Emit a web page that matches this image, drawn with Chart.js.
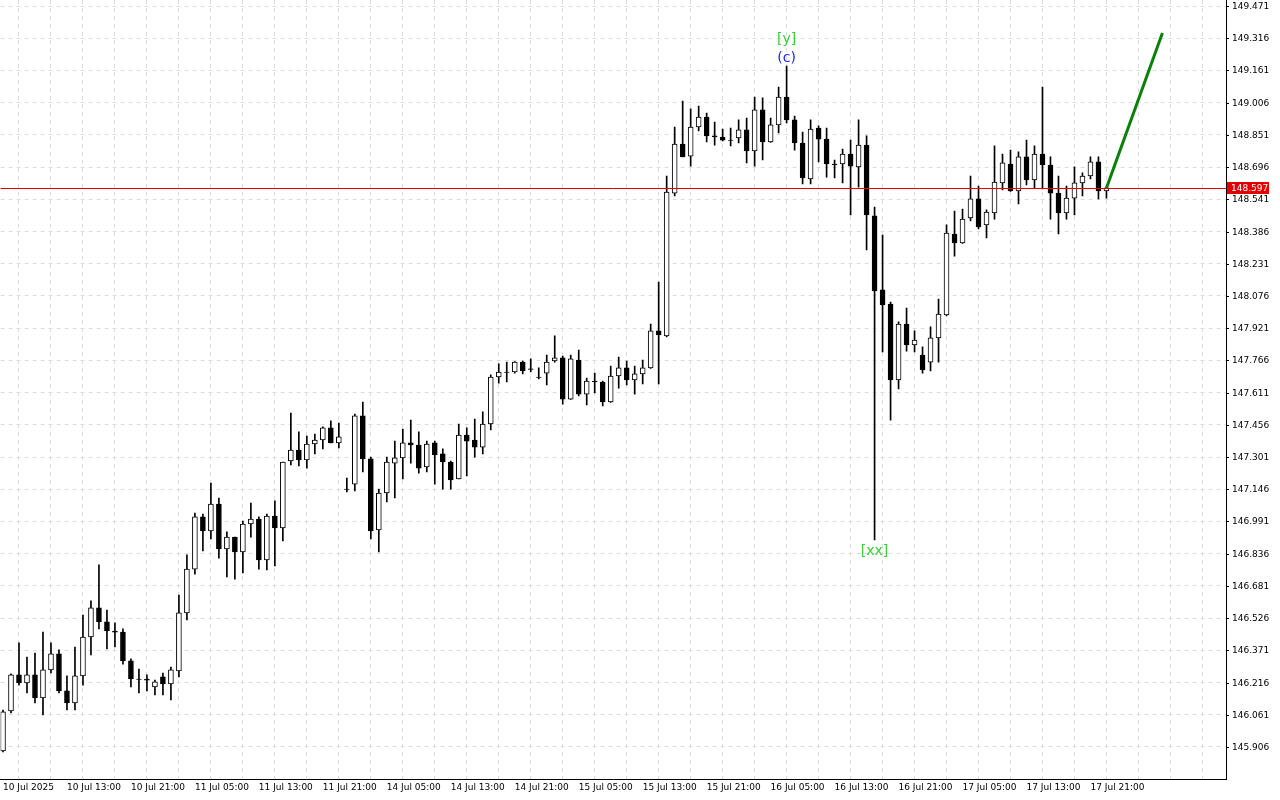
<!DOCTYPE html>
<html>
<head>
<meta charset="utf-8">
<script src="https://cdn.jsdelivr.net/npm/chart.js@4.4.1/dist/chart.umd.min.js"></script>
<style>
  html, body { margin: 0; padding: 0; background: #fff; }
  #wrap { width: 1280px; height: 800px; position: relative; }
</style>
</head>
<body>
<div id="wrap"><canvas id="c"></canvas></div>
<script>
/* USDJPY-style H1 candles, 10 Jul 2025 – 17 Jul 2025 */

const OPEN = [145.887,146.079,146.253,146.214,146.253,146.142,146.277,146.354,146.176,146.118,
  146.248,146.435,146.575,146.508,146.464,146.459,146.320,146.233,146.233,146.195,
  146.243,146.209,146.272,146.551,146.762,147.013,146.945,147.075,146.859,146.916,
  146.844,146.979,147.003,146.806,147.017,146.960,147.282,147.335,147.287,147.364,
  147.383,147.441,147.369,147.147,147.171,147.499,147.292,146.950,147.128,147.272,
  147.297,147.369,147.359,147.253,147.369,147.316,147.277,147.196,147.407,147.383,
  147.349,147.460,147.686,147.710,147.710,147.758,147.725,147.686,147.705,147.763,
  147.778,147.580,147.768,147.604,147.667,147.662,147.566,147.691,147.730,147.672,
  147.701,147.730,147.908,147.884,148.571,148.807,148.749,148.889,148.937,148.846,
  148.841,148.826,148.836,148.875,148.774,148.971,148.817,148.899,149.033,148.923,
  148.812,148.639,148.884,148.831,148.711,148.711,148.759,148.697,148.802,148.461,
  148.105,148.037,147.672,147.941,147.840,147.792,147.758,147.874,147.985,148.374,
  148.331,148.451,148.543,148.418,148.475,148.620,148.711,148.581,148.745,148.634,
  148.759,148.706,148.571,148.475,148.547,148.620,148.653,148.721,148.581];
const HIGH = [146.084,146.258,146.407,146.339,146.358,146.459,146.407,146.373,146.248,146.387,
  146.541,146.609,146.782,146.565,146.503,146.474,146.330,146.281,146.253,146.228,
  146.262,146.291,146.637,146.830,147.032,147.027,147.176,147.104,146.941,146.916,
  146.993,147.080,147.013,147.027,147.090,147.277,147.513,147.422,147.402,147.412,
  147.446,147.475,147.465,147.200,147.508,147.566,147.301,147.147,147.301,147.378,
  147.436,147.479,147.422,147.378,147.378,147.340,147.282,147.460,147.441,147.484,
  147.518,147.696,147.749,147.758,147.760,147.763,147.773,147.730,147.792,147.884,
  147.787,147.792,147.816,147.681,147.705,147.667,147.739,147.782,147.763,147.739,
  147.768,147.941,148.143,148.653,148.889,149.014,148.976,148.990,148.956,148.913,
  148.879,148.884,148.923,148.932,149.033,149.029,148.932,149.081,149.182,148.942,
  148.865,148.923,148.894,148.884,148.730,148.783,148.826,148.923,148.846,148.504,
  148.369,148.047,147.951,148.018,147.908,147.831,147.927,148.061,148.418,148.485,
  148.494,148.653,148.605,148.490,148.798,148.759,148.778,148.769,148.826,148.798,
  149.081,148.745,148.653,148.605,148.697,148.668,148.745,148.745,148.600];
const LOW = [145.882,146.070,146.204,146.166,146.118,146.060,146.262,146.166,146.084,146.084,
  146.204,146.349,146.474,146.378,146.387,146.305,146.195,146.166,146.176,146.156,
  146.156,146.133,146.243,146.517,146.738,146.849,146.907,146.815,146.724,146.714,
  146.743,146.916,146.762,146.758,146.777,146.897,147.263,147.258,147.248,147.316,
  147.340,147.369,147.345,147.133,147.138,147.229,146.907,146.844,147.085,147.104,
  147.196,147.272,147.224,147.229,147.171,147.147,147.147,147.196,147.210,147.301,
  147.316,147.431,147.657,147.662,147.705,147.701,147.710,147.677,147.648,147.758,
  147.556,147.578,147.595,147.552,147.609,147.547,147.564,147.633,147.648,147.604,
  147.653,147.728,147.653,147.879,148.557,148.745,148.701,148.870,148.817,148.802,
  148.822,148.798,148.812,148.716,148.701,148.730,148.815,148.860,148.908,148.778,
  148.615,148.615,148.721,148.648,148.644,148.620,148.466,148.600,148.297,146.902,
  147.807,147.479,147.629,147.811,147.807,147.705,147.715,147.758,147.980,148.268,
  148.329,148.437,148.398,148.355,148.446,148.586,148.579,148.519,148.610,148.596,
  148.591,148.446,148.374,148.446,148.466,148.557,148.639,148.543,148.547];
const CLOSE = [146.075,146.253,146.214,146.253,146.142,146.277,146.354,146.176,146.118,146.248,
  146.435,146.575,146.508,146.464,146.459,146.320,146.233,146.231,146.228,146.219,
  146.209,146.277,146.551,146.762,147.013,146.945,147.075,146.859,146.916,146.844,
  146.979,147.003,146.806,147.017,146.960,147.277,147.335,147.287,147.364,147.383,
  147.441,147.369,147.398,147.145,147.499,147.292,146.945,147.128,147.277,147.297,
  147.369,147.359,147.248,147.364,147.311,147.277,147.191,147.407,147.378,147.349,
  147.460,147.686,147.710,147.708,147.758,147.715,147.723,147.684,147.758,147.778,
  147.580,147.773,147.604,147.667,147.662,147.566,147.691,147.730,147.672,147.701,
  147.730,147.908,147.888,148.576,148.807,148.745,148.889,148.937,148.846,148.841,
  148.826,148.824,148.875,148.774,148.971,148.817,148.899,149.033,148.923,148.812,
  148.644,148.879,148.831,148.711,148.706,148.759,148.701,148.802,148.466,148.100,
  148.033,147.672,147.941,147.840,147.864,147.720,147.874,147.989,148.379,148.331,
  148.446,148.543,148.408,148.480,148.624,148.716,148.581,148.745,148.634,148.759,
  148.706,148.571,148.475,148.547,148.620,148.653,148.721,148.581,148.596];

const TIME_LABELS = ['10 Jul 2025','10 Jul 13:00','10 Jul 21:00','11 Jul 05:00','11 Jul 13:00',
  '11 Jul 21:00','14 Jul 05:00','14 Jul 13:00','14 Jul 21:00','15 Jul 05:00','15 Jul 13:00',
  '15 Jul 21:00','16 Jul 05:00','16 Jul 13:00','16 Jul 21:00','17 Jul 05:00','17 Jul 13:00','17 Jul 21:00'];
const PRICE_TICKS = [145.906,146.061,146.216,146.371,146.526,146.681,146.836,146.991,147.146,
  147.301,147.456,147.611,147.766,147.921,148.076,148.231,148.386,148.541,148.696,148.851,
  149.006,149.161,149.316,149.471];

const BID = 148.597;
const FORECAST_X = [138, 145];
const FORECAST_Y = [148.596, 149.341];
const MARKS = [
  { bar: 98, price: 149.182, text: '[y]', color: '#3ccc3c', dy: -20 },
  { bar: 98, price: 149.182, text: '(c)', color: '#2222ee', dy: -1 },
  { bar: 109, price: 146.902, text: '[xx]', color: '#3ccc3c', dy: 18 },
];

const FONT = '"DejaVu Sans", sans-serif';

const wicks = OPEN.map((o, i) => ({ x: i, y: [LOW[i], HIGH[i]] }));
const bodies = OPEN.map((o, i) => {
  let c = CLOSE[i];
  if (Math.abs(c - o) < 0.002) c = o + (c >= o ? 0.002 : -0.002);
  return { x: i, y: [o, c] };
});
const bull = OPEN.map((o, i) => CLOSE[i] >= o);

/* ── overlays: bid line, price labels, wave marks ───────────── */
const overlay = {
  id: 'overlay',
  afterDatasetsDraw(chart) {
    const { ctx, scales: { x, y }, chartArea } = chart;
    const py = Math.round(y.getPixelForValue(BID)) + 0.5;
    ctx.save();
    ctx.strokeStyle = '#e00000';
    ctx.lineWidth = 1;
    ctx.beginPath();
    ctx.moveTo(chartArea.left, py);
    ctx.lineTo(chartArea.right, py);
    ctx.stroke();

    ctx.font = '14px ' + FONT;
    ctx.textAlign = 'center';
    ctx.textBaseline = 'bottom';
    MARKS.forEach(m => {
      ctx.fillStyle = m.color;
      ctx.fillText(m.text, x.getPixelForValue(m.bar), y.getPixelForValue(m.price) + m.dy);
    });
    ctx.restore();
  },
  afterDraw(chart) {
    const { ctx, scales: { y }, chartArea } = chart;
    ctx.save();
    ctx.font = '9px ' + FONT;
    ctx.textAlign = 'left';
    ctx.textBaseline = 'middle';
    ctx.strokeStyle = '#000';
    ctx.lineWidth = 1;
    PRICE_TICKS.forEach(v => {
      const ty = Math.round(y.getPixelForValue(v)) + 0.5;
      ctx.beginPath();
      ctx.moveTo(chartArea.right, ty);
      ctx.lineTo(chartArea.right + 3, ty);
      ctx.stroke();
      ctx.fillStyle = '#000';
      ctx.fillText(v.toFixed(3), chartArea.right + 6, ty);
    });
    const py = Math.round(y.getPixelForValue(BID));
    ctx.fillStyle = '#e00000';
    ctx.fillRect(chartArea.right + 1, py - 6, 42, 12);
    ctx.fillStyle = '#fff';
    ctx.fillText(BID.toFixed(3), chartArea.right + 5, py + 0.5);
    ctx.restore();
  }
};

new Chart(document.getElementById('c'), {
  type: 'bar',
  data: {
    datasets: [
      {
        type: 'line',
        data: FORECAST_X.map((v, i) => ({ x: v, y: FORECAST_Y[i] })),
        borderColor: '#0a800a',
        borderWidth: 3,
        pointRadius: 0,
        order: 0,
      },
      {
        data: bodies,
        backgroundColor: bull.map(b => b ? '#ffffff' : '#000000'),
        borderColor: '#000',
        borderWidth: 1,
        borderSkipped: false,
        barThickness: 5,
        grouped: false,
        order: 1,
      },
      {
        data: wicks,
        backgroundColor: '#000',
        barThickness: 1,
        grouped: false,
        order: 2,
      },
    ]
  },
  options: {
    responsive: true,
    maintainAspectRatio: false,
    animation: false,
    layout: { padding: 0 },
    plugins: { legend: { display: false }, tooltip: { enabled: false } },
    scales: {
      x: {
        type: 'linear',
        offset: false,
        min: -0.3,
        max: 152.95,
        afterBuildTicks: s => { s.ticks = []; for (let v = 0; v <= 152; v += 4) s.ticks.push({ value: v }); },
        afterFit: s => { s.height = 21; },
        ticks: {
          autoSkip: false,
          maxRotation: 0,
          align: 'start',
          padding: 3,
          color: '#000',
          font: { size: 9, family: FONT },
          callback: v => (v % 8 === 0 ? (TIME_LABELS[v / 8] || '') : ''),
        },
        grid: { color: '#dddddd', drawTicks: false },
        border: { display: true, color: '#000', width: 1, dash: [4, 4] },
      },
      y: {
        position: 'right',
        min: 145.752,
        max: 149.5,
        afterBuildTicks: s => { s.ticks = PRICE_TICKS.map(v => ({ value: v })); },
        afterFit: s => { s.width = 54; },
        ticks: { display: false },
        grid: { color: '#dddddd', drawTicks: false },
        border: { display: true, color: '#000', width: 1, dash: [4, 4] },
      }
    }
  },
  plugins: [overlay]
});
</script>
</body>
</html>
